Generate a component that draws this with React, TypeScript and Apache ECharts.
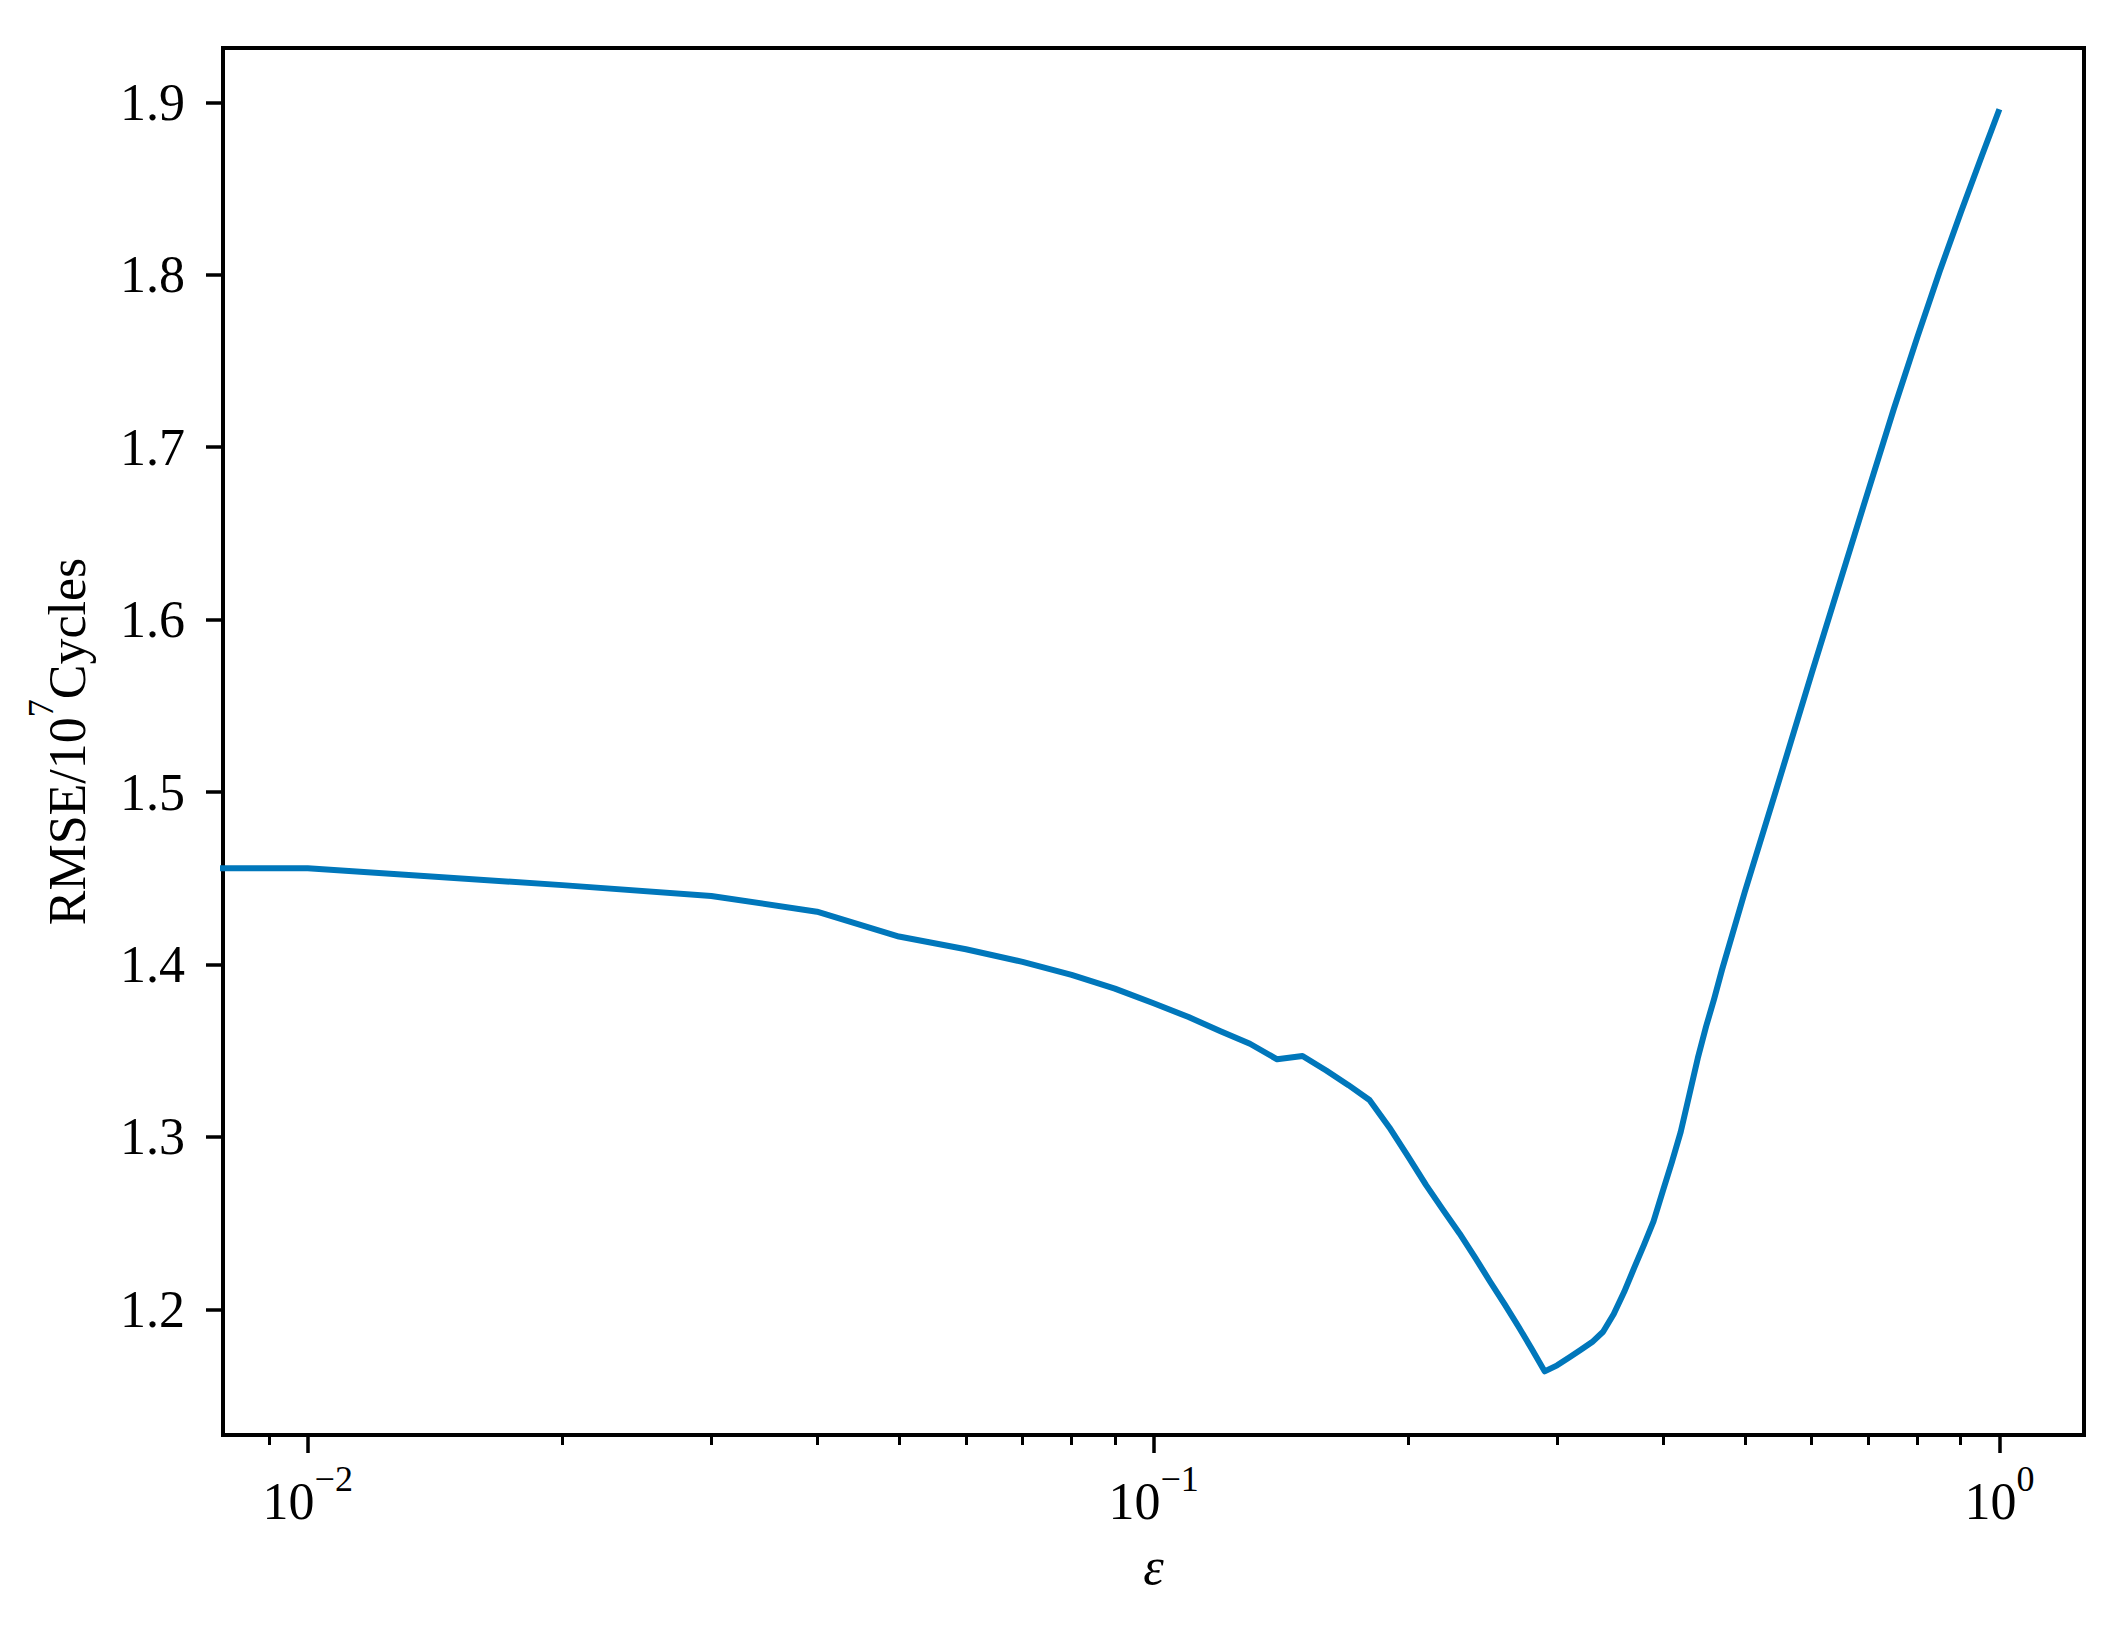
import React, { useEffect, useRef } from "react";
import * as echarts from "echarts";

// ε values (the first entry stands for ε≈0, drawn clipped at the left frame like the original)
const epsilon = [
  0.001, 0.01, 0.02, 0.03, 0.04, 0.05, 0.06, 0.07, 0.08, 0.09, 0.1,
  0.11, 0.12, 0.13, 0.14, 0.15, 0.16, 0.17, 0.18, 0.19, 0.2,
  0.21, 0.22, 0.23, 0.24, 0.25, 0.26, 0.27, 0.28, 0.29, 0.3,
  0.31, 0.32, 0.33, 0.34, 0.35, 0.36, 0.37, 0.38, 0.39, 0.4,
  0.41, 0.42, 0.43, 0.44, 0.45, 0.46, 0.47, 0.5, 0.55, 0.6,
  0.65, 0.7, 0.75, 0.8, 0.85, 0.9, 0.95, 1.0,
];

const rmse = [
  1.4558, 1.4558, 1.446, 1.4397, 1.4306, 1.4162, 1.4088, 1.4015, 1.3939, 1.386, 1.3775,
  1.3695, 1.3612, 1.354, 1.345, 1.3469, 1.3385, 1.33, 1.3214, 1.3055, 1.2885,
  1.272, 1.2575, 1.244, 1.23, 1.216, 1.203, 1.19, 1.177, 1.164, 1.1675,
  1.172, 1.1765, 1.181, 1.187, 1.1973, 1.21, 1.224, 1.2374, 1.251, 1.2686,
  1.2854, 1.3029, 1.3245, 1.3457, 1.364, 1.38, 1.397, 1.442, 1.508, 1.569,
  1.624, 1.675, 1.722, 1.764, 1.802, 1.836, 1.867, 1.896,
];

const yTicks = [1.2, 1.3, 1.4, 1.5, 1.6, 1.7, 1.8, 1.9];
const xMajorTicks = [0.01, 0.1, 1];
const xMinorTicks = [
  0.009, 0.02, 0.03, 0.04, 0.05, 0.06, 0.07, 0.08, 0.09,
  0.2, 0.3, 0.4, 0.5, 0.6, 0.7, 0.8, 0.9,
];

const X_MIN = 0.00794;
const X_MAX = 1.259;
const Y_MIN = 1.1271;
const Y_MAX = 1.9315;

const FONT = "'Liberation Serif', 'Times New Roman', serif";

export default function App() {
  const ref = useRef<HTMLDivElement>(null);

  useEffect(() => {
    if (!ref.current) return;
    const chart = echarts.init(ref.current, null, { renderer: "svg" });
    const data = epsilon.map((e, i) => [e, rmse[i]]);
    const tickStyle = { color: "#000", width: 3.5 };

    chart.setOption({
      animation: false,
      backgroundColor: "#ffffff",
      grid: {
        left: 223,
        top: 48,
        right: 36,
        bottom: 194,
        show: true,
        borderColor: "#000",
        borderWidth: 4,
        backgroundColor: "transparent",
      },
      xAxis: [
        {
          type: "log",
          logBase: 10,
          min: X_MIN,
          max: X_MAX,
          axisLine: { show: true, lineStyle: { color: "#000", width: 4 } },
          axisTick: {
            show: true,
            customValues: xMajorTicks,
            length: 18,
            lineStyle: tickStyle,
          },
          axisLabel: {
            show: true,
            customValues: xMajorTicks,
            margin: 26,
            formatter: (v: number) => {
              const ex = Math.round(Math.log10(v));
              const s = ex < 0 ? "\u2212" + String(-ex) : String(ex);
              return "{b|10}{s|" + s + "}";
            },
            rich: {
              b: { fontFamily: FONT, fontSize: 52, color: "#000" },
              s: {
                fontFamily: FONT,
                fontSize: 36,
                color: "#000",
                padding: [0, 0, 44, 0],
              },
            },
          },
          splitLine: { show: false },
          name: "\u03b5",
          nameLocation: "middle",
          nameGap: 105,
          nameTextStyle: {
            fontFamily: FONT,
            fontStyle: "italic",
            fontSize: 52,
            color: "#000",
          },
        },
        {
          type: "log",
          logBase: 10,
          min: X_MIN,
          max: X_MAX,
          position: "bottom",
          axisLine: { show: false },
          axisTick: {
            show: true,
            customValues: xMinorTicks,
            length: 10,
            lineStyle: { color: "#000", width: 3 },
          },
          axisLabel: { show: false },
          splitLine: { show: false },
        },
      ],
      yAxis: {
        type: "value",
        min: Y_MIN,
        max: Y_MAX,
        axisLine: { show: true, lineStyle: { color: "#000", width: 4 } },
        axisTick: {
          show: true,
          customValues: yTicks,
          length: 17,
          lineStyle: tickStyle,
        },
        axisLabel: {
          show: true,
          customValues: yTicks,
          margin: 38,
          fontFamily: FONT,
          fontSize: 52,
          color: "#000",
          formatter: (v: number) => v.toFixed(1),
        },
        splitLine: { show: false },
        name: "{n|RMSE/10}{s|7}{n|Cycles}",
        nameLocation: "middle",
        nameRotate: 90,
        nameGap: 112,
        nameTextStyle: {
          rich: {
            n: { fontFamily: FONT, fontSize: 52, color: "#000" },
            s: {
              fontFamily: FONT,
              fontSize: 36,
              color: "#000",
              padding: [0, 0, 52, 0],
            },
          },
        },
      },
      series: [
        {
          type: "line",
          xAxisIndex: 0,
          yAxisIndex: 0,
          data,
          showSymbol: false,
          symbol: "none",
          clip: true,
          lineStyle: { color: "#0077BB", width: 6, join: "round", cap: "butt" },
        },
      ],
    });

    return () => chart.dispose();
  }, []);

  return (
    <div
      ref={ref}
      style={{ position: "fixed", left: 0, top: 0, width: 2120, height: 1629 }}
    />
  );
}
